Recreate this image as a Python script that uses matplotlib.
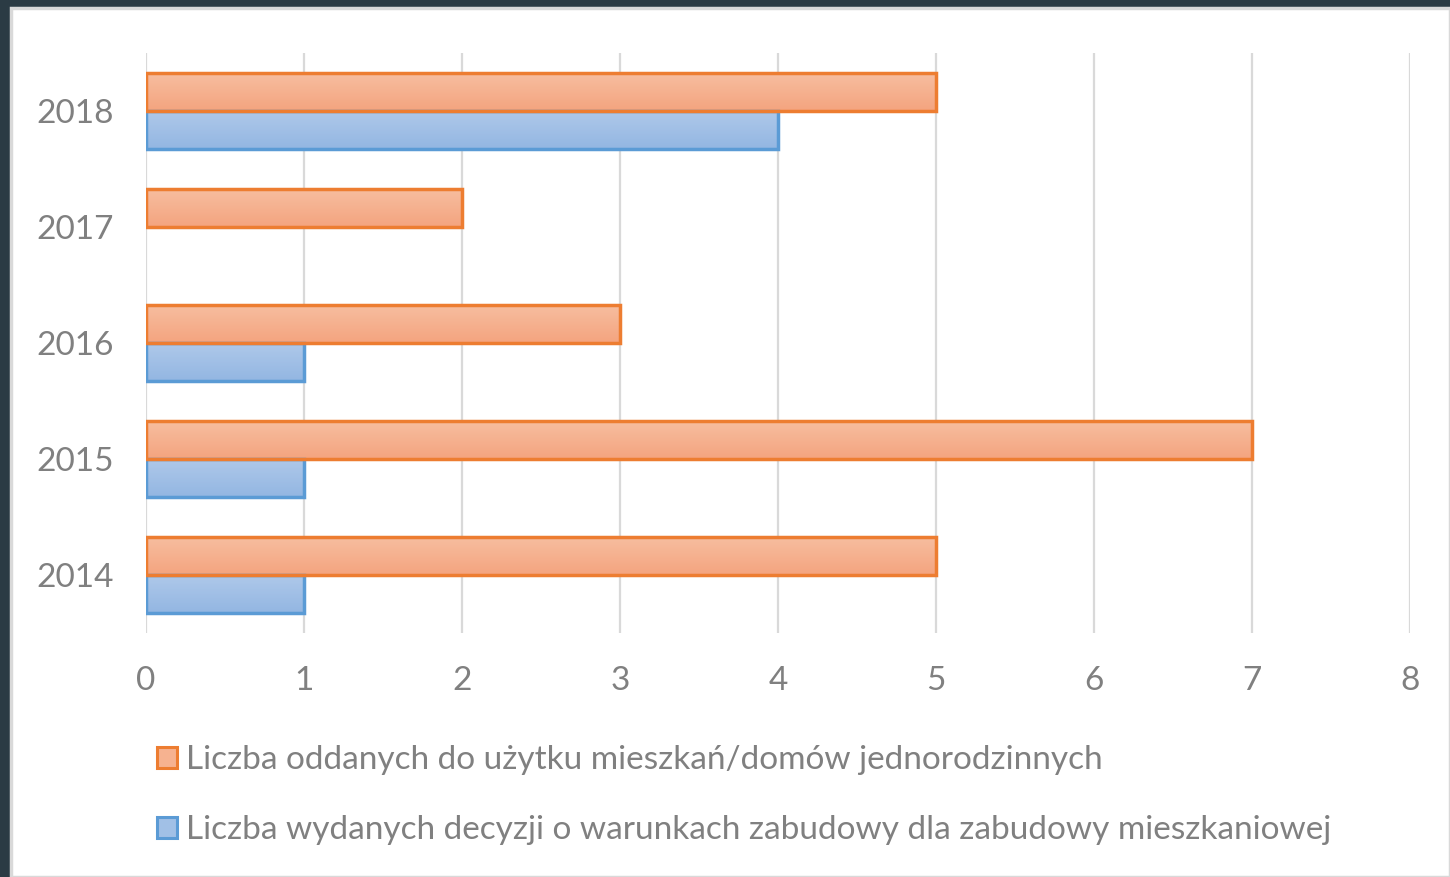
import matplotlib
matplotlib.use("Agg")
import matplotlib.pyplot as plt
import numpy as np
from matplotlib.patches import Rectangle, Patch
from matplotlib.colors import LinearSegmentedColormap

years = ["2014", "2015", "2016", "2017", "2018"]
oddane = [5, 7, 3, 2, 5]
decyzje = [1, 1, 1, 0, 4]
label_oddane = "Liczba oddanych do użytku mieszkań/domów jednorodzinnych"
label_decyzje = "Liczba wydanych decyzji o warunkach zabudowy dla zabudowy mieszkaniowej"
xticks = [0, 1, 2, 3, 4, 5, 6, 7, 8]

plt.rcParams['font.family'] = ['Lato', 'DejaVu Sans']

fig = plt.figure(figsize=(14.5, 8.77), dpi=100)
fig.patch.set_facecolor('#2b3b44')
bg = Rectangle((11/1450, 0), 1 - 11/1450, 1 - 8/877, transform=fig.transFigure,
               facecolor='white', edgecolor='#d9d9d9', linewidth=2.5, zorder=-5)
fig.patches.append(bg)

ax = fig.add_axes([146/1450, 1 - 633/877, (1410 - 146)/1450, (633 - 53)/877])
ax.set_facecolor('none')

y = np.arange(len(years))
h = 0.33
orange_edge = '#ed7d31'
blue_edge = '#5b9bd5'
orange_cmap = LinearSegmentedColormap.from_list('o', ['#f4a47f', '#f7bea0'])
blue_cmap = LinearSegmentedColormap.from_list('b', ['#93b6e2', '#afc9ea'])

b1 = ax.barh(y + h/2, oddane, height=h, facecolor='none', edgecolor=orange_edge,
             linewidth=2.5, zorder=4)
b2 = ax.barh(y - h/2, decyzje, height=h, facecolor='none', edgecolor=blue_edge,
             linewidth=2.5, zorder=3)

grad = np.linspace(0, 1, 64).reshape(-1, 1)
for bars, cmap in ((b1, orange_cmap), (b2, blue_cmap)):
    for p in bars:
        x0, y0 = p.get_x(), p.get_y()
        w, hh = p.get_width(), p.get_height()
        if w <= 0:
            p.set_visible(False)
            continue
        im = ax.imshow(grad, cmap=cmap, aspect='auto', origin='lower',
                       extent=(x0, x0 + w, y0, y0 + hh), zorder=2.5,
                       interpolation='bilinear')
        im.set_clip_path(p)

ax.set_xlim(0, 8)
ax.set_ylim(-0.5, 4.5)
ax.set_xticks(xticks)
ax.set_yticks(y)
ax.set_yticklabels(years)
for s in ax.spines.values():
    s.set_visible(False)
ax.grid(axis='x', color='#d9d9d9', linewidth=1.6, zorder=1)
ax.set_axisbelow(True)
ax.tick_params(axis='both', length=0, labelsize=24, labelcolor='#808080')
ax.tick_params(axis='x', pad=24)
ax.tick_params(axis='y', pad=23)

handles = [Patch(facecolor='#f6b290', edgecolor=orange_edge, linewidth=2.2),
           Patch(facecolor='#a1c0e6', edgecolor=blue_edge, linewidth=2.2)]
leg = fig.legend(handles, [label_oddane, label_decyzje], loc='upper left',
                 bbox_to_anchor=(157/1450, 1 - 745/877), frameon=False,
                 fontsize=24, labelcolor='#808080', handlelength=0.6,
                 handleheight=0.6, handletextpad=0.27, labelspacing=1.2,
                 borderpad=0, borderaxespad=0)

fig.savefig('out.png', dpi=100, facecolor=fig.get_facecolor())
